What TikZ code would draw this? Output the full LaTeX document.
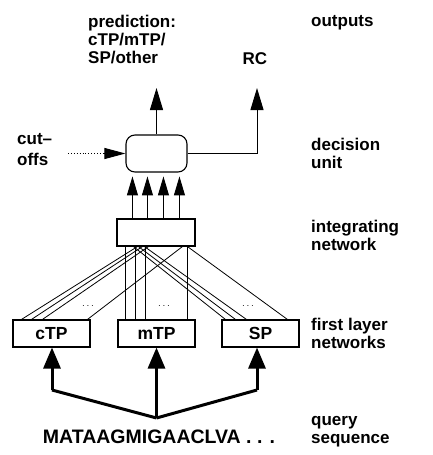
\documentclass[tikz,border=0pt]{standalone}
\usepackage{fontspec}
\setmainfont{Liberation Sans}
\usetikzlibrary{arrows.meta,calc}
\begin{document}
\begin{tikzpicture}[x=1pt,y=-1pt,
  txt/.style={font=\fontsize{17}{18}\selectfont\bfseries, inner sep=0pt, align=left},
  lbl/.style={txt, anchor=north west},
  netbox/.style={draw, line width=1.1pt, minimum width=77pt, minimum height=27pt, inner sep=0pt, font=\fontsize{17.5}{18}\selectfont\bfseries},
  wire/.style={line width=0.8pt},
  outarrow/.style={line width=1pt, -{Triangle[length=22pt,width=13pt]}},
  inarrow/.style={line width=1pt, -{Triangle[length=19pt,width=11pt]}},
  seqarrow/.style={line width=3pt, -{Triangle[length=21pt,width=17pt]}},
  dots/.style={font=\fontsize{10}{10}\selectfont, inner sep=0pt}
]
\useasboundingbox (0,0) rectangle (432,455);

% right-hand column labels
\node[lbl] (lout) at (311,15) {outputs};
\node[lbl] (ldec) at (311,138) {decision\\unit};
\node[lbl] (lint) at (311,220) {integrating\\network};
\node[lbl] (lfirst) at (311,318) {first layer\\networks};
\node[lbl] (lquery) at (311,416) {query\\sequence};

% outputs
\node[lbl] (pred) at (88,15) {prediction:\\cTP/mTP/\\SP/other};
\node[txt, anchor=base] (rc) at (255,64) {RC};

% decision unit
\node[draw, line width=1.1pt, rounded corners=9pt, minimum width=61pt, minimum height=37pt, inner sep=0pt] (dec) at (156.5,153.5) {};
\coordinate (predtip) at (156.5,88);
\coordinate (rctip) at (257,88);
\draw[outarrow] (dec.north) -- (predtip);
\draw[line width=1pt] (dec.east) -- (dec.east -| rctip);
\draw[outarrow] (dec.east -| rctip) -- (rctip);

% cut-offs
\node[lbl, font=\fontsize{17}{21}\selectfont\bfseries] (cut) at (17,133) {cut--\\offs};
\coordinate (cutstart) at (68,153.5);
\coordinate (cuthead) at ($(dec.west)+(-21,0)$);
\draw[line width=0.9pt, dotted] (cutstart) -- (cuthead);
\draw[line width=0.9pt, -{Triangle[length=21pt,width=11pt]}] (cuthead) -- (dec.west);

% integrating network
\node[draw, line width=1.1pt, minimum width=78pt, minimum height=27pt, inner sep=0pt] (integ) at (156,232.5) {};
\foreach \dx in {16,31,47,63}
  \draw[inarrow] ($(integ.north west)+(\dx,0)$) -- ++(0,-42);

% first layer networks
\node[netbox] (ctp) at (51.5,333.5) {cTP};
\node[netbox] (mtp) at (156.5,333.5) {mTP};
\node[netbox] (sp) at (260.5,333.5) {SP};

% wires cTP -> integrating
\draw[wire] ($(ctp.north west)+(9,0)$) -- ($(integ.south west)+(21,0)$);
\draw[wire] ($(ctp.north west)+(19,0)$) -- ($(integ.south west)+(26,0)$);
\draw[wire] ($(ctp.north west)+(30,0)$) -- ($(integ.south west)+(32,0)$);
\draw[wire] ($(ctp.north west)+(75,0)$) -- ($(integ.south west)+(66,0)$);
% wires mTP -> integrating
\foreach \dx in {8,18,28,70}
  \draw[wire] ($(mtp.north west)+(\dx,0)$) -- ($(integ.south west)+(\dx+1,0)$);
% wires SP -> integrating
\draw[wire] ($(sp.north west)+(4,0)$) -- ($(integ.south west)+(17,0)$);
\draw[wire] ($(sp.north west)+(14,0)$) -- ($(integ.south west)+(22,0)$);
\draw[wire] ($(sp.north west)+(25,0)$) -- ($(integ.south west)+(28,0)$);
\draw[wire] ($(sp.north west)+(66,0)$) -- ($(integ.south west)+(71,0)$);

\node[dots] (d1) at (88,306) {$\cdots$};
\node[dots] (d2) at (164,306) {$\cdots$};
\node[dots] (d3) at (248,306) {$\cdots$};

% query sequence
\node[txt, font=\fontsize{19.5}{20}\selectfont\bfseries] (seq) at (159,437) {MATAAGMIGAACLVA . . .};
\coordinate (j) at (156.5,418);
\coordinate (jl) at (52,390);
\coordinate (jr) at (257,390);
\draw[line width=3pt] (j) -- (jl);
\draw[seqarrow] (jl) -- (ctp.south -| jl);
\draw[seqarrow] (j) -- (mtp.south);
\draw[line width=3pt] (j) -- (jr);
\draw[seqarrow] (jr) -- (sp.south -| jr);
\end{tikzpicture}
\end{document}
